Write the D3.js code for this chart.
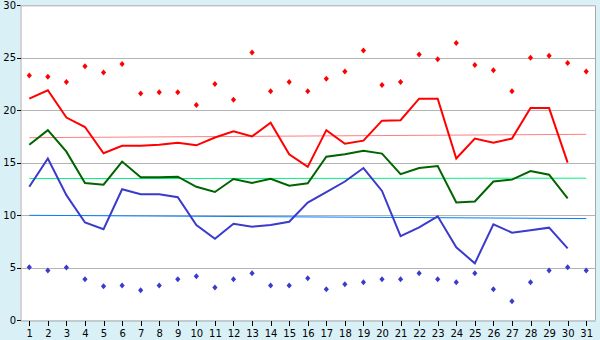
<!DOCTYPE html>
<html>
<head>
<meta charset="utf-8">
<script src="https://cdn.jsdelivr.net/npm/d3@7"></script>
<style>
  body { margin: 0; background: #daf0f7; }
  svg { display: block; }
  text { font-family: "DejaVu Sans", sans-serif; font-size: 10px; fill: #000; }
</style>
</head>
<body>
<svg id="chart" width="600" height="340"></svg>
<script>
// days of the month
const days = d3.range(1, 32);
const yTicks = [0, 5, 10, 15, 20, 25, 30];

// daily max / mean / min (days 1-30)
const maxTemp = [21.1, 21.9, 19.3, 18.4, 15.9, 16.6, 16.6, 16.7, 16.9, 16.65,
  17.4, 18.0, 17.5, 18.8, 15.8, 14.6, 18.1, 16.8, 17.1, 19.0,
  19.05, 21.1, 21.1, 15.4, 17.3, 16.9, 17.3, 20.2, 20.2, 15.0];
const meanTemp = [16.7, 18.1, 16.05, 13.05, 12.9, 15.1, 13.6, 13.6, 13.66, 12.7,
  12.2, 13.44, 13.06, 13.47, 12.8, 13.03, 15.57, 15.8, 16.14, 15.86,
  13.9, 14.49, 14.68, 11.2, 11.3, 13.2, 13.38, 14.2, 13.85, 11.6];
const minTemp = [12.7, 15.4, 11.9, 9.3, 8.65, 12.46, 11.98, 11.98, 11.7, 9.06,
  7.75, 9.18, 8.9, 9.06, 9.37, 11.2, 12.2, 13.2, 14.49, 12.3,
  8.0, 8.83, 9.88, 6.93, 5.4, 9.12, 8.33, 8.55, 8.8, 6.83];

// record highs / lows (days 1-31)
const recordHigh = [23.3, 23.2, 22.7, 24.2, 23.6, 24.4, 21.6, 21.7, 21.7, 20.5,
  22.5, 21.0, 25.5, 21.8, 22.7, 21.8, 23.0, 23.7, 25.7, 22.4,
  22.7, 25.3, 24.85, 26.4, 24.3, 23.8, 21.8, 25.0, 25.2, 24.5, 23.7];
const recordLow = [5.02, 4.73, 5.0, 3.88, 3.21, 3.3, 2.83, 3.3, 3.88, 4.16,
  3.11, 3.88, 4.45, 3.3, 3.3, 3.97, 2.92, 3.4, 3.59, 3.88,
  3.88, 4.45, 3.88, 3.59, 4.45, 2.92, 1.78, 3.59, 4.73, 5.02, 4.73];

// long-term averages (start day 1, end day 31)
const avgMax = [17.38, 17.7];
const avgMean = [13.48, 13.52];
const avgMin = [9.98, 9.67];

const svg = d3.select("#chart");
const pLeft = 20, pRight = 595.5, pTop = 5.3, pBottom = 320;

const x = d3.scalePoint().domain(days).range([pLeft, pRight]).padding(0.5);
const y = d3.scaleLinear().domain([0, 30]).range([pBottom, pTop]);

svg.append("rect")
  .attr("x", pLeft).attr("y", pTop)
  .attr("width", pRight - pLeft).attr("height", pBottom - pTop)
  .attr("fill", "#fff");

// grid
svg.append("g").selectAll("line")
  .data(yTicks.filter(d => d > 0 && d < 30))
  .join("line")
  .attr("x1", pLeft).attr("x2", pRight)
  .attr("y1", d => Math.round(y(d)) + 0.5).attr("y2", d => Math.round(y(d)) + 0.5)
  .attr("stroke", "#b4b4b4")
  .attr("shape-rendering", "crispEdges");

// axes
const yAxis = svg.append("g")
  .attr("transform", `translate(${pLeft + 0.5},0)`)
  .call(d3.axisLeft(y).tickValues(yTicks).tickSize(4).tickSizeOuter(0));
const xAxis = svg.append("g")
  .attr("transform", `translate(0,${pBottom + 0.5})`)
  .call(d3.axisBottom(x).tickSize(5).tickSizeOuter(0));
[yAxis, xAxis].forEach(g => {
  g.select(".domain").attr("stroke", "#a8a8a8");
  g.selectAll(".tick line").attr("stroke", "#000").attr("shape-rendering", "crispEdges");
  g.selectAll("text").style("font-family", "DejaVu Sans").style("font-size", "10px");
});
yAxis.selectAll(".tick text").attr("x", -4.5);
xAxis.selectAll(".tick text").attr("y", 9);

// plot border (top, right)
svg.append("path")
  .attr("d", `M${pLeft},${pTop + 0.5}H${pRight}V${pBottom}`)
  .attr("fill", "none").attr("stroke", "#a8a8a8");

// average lines
const avgLine = (vals, color) => svg.append("line")
  .attr("x1", x(1)).attr("x2", x(31))
  .attr("y1", y(vals[0])).attr("y2", y(vals[1]))
  .attr("stroke", color).attr("stroke-width", 1);
avgLine(avgMax, "#ff8080");
avgLine(avgMean, "#00f080");
avgLine(avgMin, "#0080ff");

// daily lines
const line = d3.line().x((d, i) => x(i + 1)).y(d => y(d));
[[maxTemp, "#ff0000"], [meanTemp, "#006400"], [minTemp, "#3a3acc"]].forEach(([vals, color]) => {
  svg.append("path")
    .datum(vals)
    .attr("d", line)
    .attr("fill", "none")
    .attr("stroke", color)
    .attr("stroke-width", 2);
});

// record markers
const diamond = "M0,-3L2.6,0L0,3L-2.6,0Z";
[[recordHigh, "#ff0000"], [recordLow, "#3a3acc"]].forEach(([vals, color]) => {
  svg.append("g").selectAll("path")
    .data(vals)
    .join("path")
    .attr("d", diamond)
    .attr("transform", (d, i) => `translate(${x(i + 1)},${y(d)})`)
    .attr("fill", color);
});
</script>
</body>
</html>
